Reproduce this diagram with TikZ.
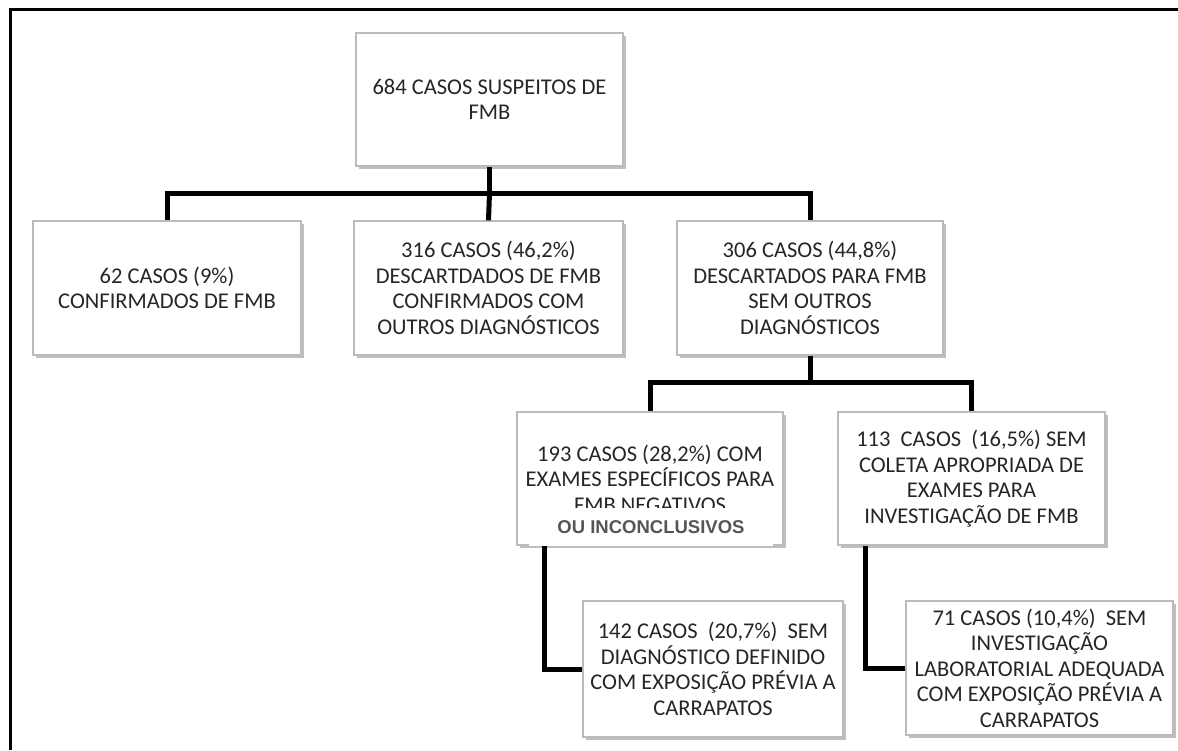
\documentclass[tikz,border=0pt]{standalone}
\usepackage{fontspec}
\setmainfont{Carlito}
\newfontfamily\arialbold{Liberation Sans}
\usetikzlibrary{shadows}
\definecolor{txt}{HTML}{262626}
\definecolor{frame}{HTML}{BBBBBB}
\definecolor{ovtxt}{HTML}{555555}
\tikzset{
  box/.style={draw=frame, line width=1.2pt, fill=white, inner sep=0pt, align=center,
    text=txt, font=\fontsize{22.5}{25.5}\selectfont,
    drop shadow={shadow xshift=2.5pt, shadow yshift=-2.5pt, fill=black!55, opacity=0.45}},
  conn/.style={line width=5pt, black},
  outer/.style={line width=3pt, black}
}
\begin{document}
\begin{tikzpicture}[x=1pt, y=-1pt]
\useasboundingbox (0,0) rectangle (1178,750);
\fill[white] (0,0) rectangle (1178,750);
\draw[outer] (10.5,750) -- (10.5,9.5) -- (1178,9.5);

\node[box, minimum width=267pt, minimum height=133pt] (root) at (489.5,99.5)
  {684 CASOS SUSPEITOS DE\\FMB};
\node[box, minimum width=268pt, minimum height=134pt] (b1) at (167,288)
  {62 CASOS (9\%)\\CONFIRMADOS DE FMB};
\node[box, minimum width=269pt, minimum height=134pt] (b2) at (488.5,288)
  {316 CASOS (46,2\%)\\DESCARTDADOS DE FMB\\CONFIRMADOS COM\\OUTROS DIAGNÓSTICOS};
\node[box, minimum width=266pt, minimum height=134pt] (b3) at (810,288)
  {306 CASOS (44,8\%)\\DESCARTADOS PARA FMB\\SEM OUTROS\\DIAGNÓSTICOS};
\node[box, minimum width=266pt, minimum height=133pt, text depth=0pt] (ba) at (650,478.5)
  {193 CASOS (28,2\%) COM\\EXAMES ESPECÍFICOS PARA\\FMB NEGATIVOS};
\node[fill=white, inner sep=0pt, minimum width=244pt, minimum height=38pt,
  text=ovtxt, font=\arialbold\bfseries\fontsize{18.5}{20}\selectfont] (ov) at (651,527)
  {OU INCONCLUSIVOS};
\node[box, minimum width=267pt, minimum height=133pt] (bb) at (971.5,478.5)
  {113\ \ CASOS\ \ (16,5\%) SEM\\COLETA APROPRIADA DE\\EXAMES PARA\\INVESTIGAÇÃO DE FMB};
\node[box, minimum width=260pt, minimum height=136pt] (bc) at (713,669)
  {142 CASOS\ \ (20,7\%)\ \ SEM\\DIAGNÓSTICO DEFINIDO\\COM EXPOSIÇÃO PRÉVIA A\\CARRAPATOS};
\node[box, minimum width=267pt, minimum height=134pt] (bd) at (1039.5,668)
  {71 CASOS (10,4\%)\ \ SEM\\INVESTIGAÇÃO\\LABORATORIAL ADEQUADA\\COM EXPOSIÇÃO PRÉVIA A\\CARRAPATOS};

\coordinate (bar1) at (0,193);
\coordinate (bar2) at (0,382);
\draw[conn] (root.south) -- (root.south |- bar1);
\draw[conn] (b1.north) |- (bar1 -| root.south) -| (b3.north);
\draw[conn] (bar1 -| root.south) -- (b2.north);
\draw[conn] (b3.south) -- (b3.south |- bar2);
\draw[conn] (ba.north) |- (bar2 -| b3.south) -| (bb.north);
\draw[conn] ([xshift=28pt]ba.south west) |- (bc.west);
\draw[conn] ([xshift=28pt]bb.south west) |- (bd.west);
\end{tikzpicture}
\end{document}
